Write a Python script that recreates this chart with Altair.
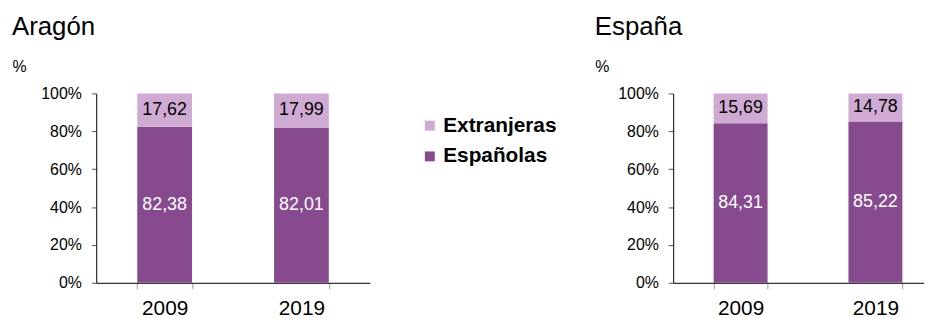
import altair as alt
import pandas as pd

FONT = "Liberation Sans"

years = ["2009", "2019"]
series_order = ["Extranjeras", "Españolas"]
colors = ["#CFAAD3", "#884A8F"]  # Extranjeras, Españolas

aragon_espanolas = [82.38, 82.01]
aragon_extranjeras = [17.62, 17.99]
espana_espanolas = [84.31, 85.22]
espana_extranjeras = [15.69, 14.78]

y_ticks = [0, 0.2, 0.4, 0.6, 0.8, 1.0]


def make_df(esp, ext):
    rows = []
    for i, y in enumerate(years):
        rows.append({"year": y, "serie": "Españolas", "orden": 0, "valor": esp[i]})
        rows.append({"year": y, "serie": "Extranjeras", "orden": 1, "valor": ext[i]})
    return pd.DataFrame(rows)


def panel(df, title, width, dx, legend=None):
    base = alt.Chart(df).transform_stack(
        stack="valor", groupby=["year"], as_=["v0", "v1"], offset="normalize",
        sort=[alt.SortField("orden", order="ascending")],
    ).transform_calculate(
        mid="(datum.v0 + datum.v1) / 2",
        label="replace(format(datum.valor, '.2f'), '.', ',')",
    )
    x_axis = alt.Axis(labelAngle=0, labelFontSize=21, labelColor="black",
                      tickBand="extent", tickSize=6, tickColor="#999999",
                      domainColor="black", domainWidth=1, labelPadding=9,
                      grid=False)
    y_axis = alt.Axis(values=y_ticks, format=".0%", labelFontSize=16,
                      labelColor="black", tickSize=5, tickColor="#555555",
                      domainColor="black", domainWidth=1, labelPadding=10,
                      labelOverlap=False, labelFlush=False,
                      grid=False, title="%", titleAngle=0, titleX=dx,
                      titleY=-22, titleAlign="left", titleBaseline="alphabetic",
                      titleFontSize=16, titleFontWeight="normal",
                      titleColor="black")
    x_scale = alt.Scale(paddingInner=0.6, paddingOuter=0.3)
    y_scale = alt.Scale(domain=[0, 1], nice=False)
    bars = base.mark_bar().encode(
        x=alt.X("year:N", sort=years, title=None, scale=x_scale, axis=x_axis),
        y=alt.Y("v0:Q", title="%", scale=y_scale, axis=y_axis),
        y2="v1:Q",
        color=alt.Color("serie:N",
                        scale=alt.Scale(domain=series_order, range=colors),
                        legend=legend),
    )
    text = base.mark_text(fontSize=18, font=FONT).encode(
        x=alt.X("year:N", sort=years, title=None, scale=x_scale, axis=x_axis),
        y=alt.Y("mid:Q", title="%", scale=y_scale, axis=y_axis),
        text="label:N",
        color=alt.condition("datum.serie == 'Españolas'",
                            alt.value("white"), alt.value("black")),
    )
    return alt.layer(bars, text).properties(
        width=width, height=191,
        title=alt.TitleParams(title, anchor="start", frame="group", dx=dx,
                              fontSize=26, font=FONT, fontWeight="normal",
                              color="black", baseline="alphabetic", offset=-2),
    )


left = panel(make_df(aragon_espanolas, aragon_extranjeras), "Aragón", 276, -85)
right = panel(
    make_df(espana_espanolas, espana_extranjeras), "España", 272, -79,
    legend=alt.Legend(title=None, orient="none", legendX=-256, legendY=22,
                      symbolType="square", symbolSize=100, symbolStrokeWidth=0,
                      labelFontSize=21, labelFontWeight="bold", labelFont=FONT,
                      labelColor="black", labelOffset=3, rowPadding=9,
                      padding=0),
)

chart = alt.hconcat(left, right, spacing=50).resolve_scale(
    color="independent"
).resolve_legend(color="independent").properties(
    autosize=alt.AutoSizeParams(type="none"),
    padding={"left": 89, "top": 84, "right": 835, "bottom": 226},
).configure_axis(
    labelFont=FONT, titleFont=FONT, labelOverlap=False
).configure_view(stroke=None)

chart.save("out.html", embed_options={"renderer": "svg", "actions": False})
